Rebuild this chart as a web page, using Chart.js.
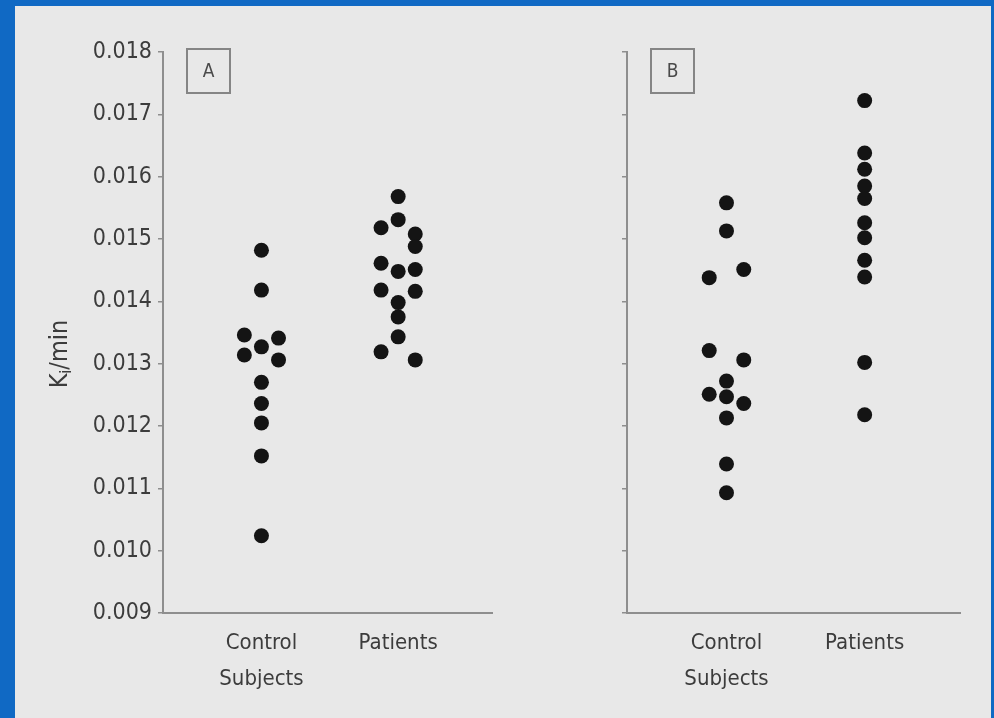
<!DOCTYPE html>
<html>
<head>
<meta charset="utf-8">
<title>Ki/min - control subjects vs patients</title>
<script src="https://cdn.jsdelivr.net/npm/chart.js@4.4.0/dist/chart.umd.min.js"></script>
<style>
    body { margin: 0; background: #1069c4; overflow: hidden; }
    #frame { position: absolute; left: 15px; top: 6px; width: 976px; height: 712px; background: #e8e8e8; }
    .wrap { position: absolute; top: 0; height: 718px; }
    #wrapA { left: 0; width: 500px; }
    #wrapB { left: 500px; width: 491px; }
</style>
</head>
<body>
<div id="frame"></div>
<div class="wrap" id="wrapA"><canvas id="chartA"></canvas></div>
<div class="wrap" id="wrapB"><canvas id="chartB"></canvas></div>

<script>
// =============================
// DATA (Ki/min per subject)
// =============================
const categories = [["Control", "Subjects"], "Patients"];
const yTicks = [0.009, 0.010, 0.011, 0.012, 0.013, 0.014, 0.015, 0.016, 0.017, 0.018];

// panel A
const controlA = [0.01482, 0.01418, 0.01346, 0.01341, 0.01327, 0.01314, 0.01306, 0.01270, 0.01236, 0.01205, 0.01152, 0.01024];
const controlAColumn = [0, 0, -1, 1, 0, -1, 1, 0, 0, 0, 0, 0];
const patientsA = [0.01568, 0.01531, 0.01518, 0.01508, 0.01488, 0.01461, 0.01448, 0.01451, 0.01418, 0.01416, 0.01398, 0.01375, 0.01343, 0.01319, 0.01306];
const patientsAColumn = [0, 0, -1, 1, 1, -1, 0, 1, -1, 1, 0, 0, 0, -1, 1];

// panel B
const controlB = [0.01558, 0.01513, 0.01438, 0.01451, 0.01321, 0.01306, 0.01272, 0.01251, 0.01247, 0.01236, 0.01213, 0.01139, 0.01093];
const controlBColumn = [0, 0, -1, 1, -1, 1, 0, -1, 0, 1, 0, 0, 0];
const patientsB = [0.01722, 0.01638, 0.01612, 0.01585, 0.01565, 0.01526, 0.01502, 0.01466, 0.01439, 0.01302, 0.01218];
const patientsBColumn = [0, 0, 0, 0, 0, 0, 0, 0, 0, 0, 0];

// =============================
// STYLE
// =============================
const FONT = "'Liberation Sans Narrow', 'DejaVu Sans Condensed', 'Liberation Sans', sans-serif";
const TEXT = "#3c3c3c";
const AXIS = "#8e8e8e";
const COL_STEP = 0.125;

function toPoints(values, columns, catIndex) {
    return values.map((v, i) => ({ x: catIndex + 1 + columns[i] * COL_STEP, y: v }));
}

// boxed panel letter (A / B)
const panelLabel = {
    id: "panelLabel",
    afterDraw(chart, args, opts) {
        const { ctx, chartArea } = chart;
        const x = chartArea.left + opts.dx, y = chartArea.top + opts.dy;
        ctx.save();
        ctx.strokeStyle = "#858585";
        ctx.lineWidth = 2;
        ctx.strokeRect(x, y, 43, 44);
        ctx.fillStyle = "#4a4a4a";
        ctx.font = "19px " + FONT;
        ctx.textAlign = "center";
        ctx.textBaseline = "middle";
        ctx.fillText(opts.text, x + 21.5, y + 23);
        ctx.restore();
    }
};

// rotated y title with subscript: K_i/min
const yTitle = {
    id: "yTitle",
    afterDraw(chart, args, opts) {
        if (!opts.show) return;
        const ctx = chart.ctx;
        ctx.save();
        ctx.translate(opts.x, opts.y);
        ctx.rotate(-Math.PI / 2);
        ctx.fillStyle = TEXT;
        ctx.textBaseline = "middle";
        const big = "25px " + FONT, small = "16px " + FONT;
        ctx.font = big;
        const wK = ctx.measureText("K").width;
        const wRest = ctx.measureText("/min").width;
        ctx.font = small;
        const wi = ctx.measureText("i").width;
        let x = -(wK + wi + wRest) / 2;
        ctx.font = big;
        ctx.fillText("K", x, 0);
        x += wK;
        ctx.font = small;
        ctx.fillText("i", x, 7);
        x += wi;
        ctx.font = big;
        ctx.fillText("/min", x, 0);
        ctx.restore();
    }
};

function makeChart(id, control, controlCol, patients, patientsCol, opt) {
    const ctx = document.getElementById(id);
    return new Chart(ctx, {
        type: "scatter",
        data: {
            datasets: [
                { label: "Control Subjects", data: toPoints(control, controlCol, 0) },
                { label: "Patients", data: toPoints(patients, patientsCol, 1) }
            ]
        },
        options: {
            responsive: true,
            maintainAspectRatio: false,
            animation: false,
            layout: { padding: { left: 0, right: opt.padRight, top: 52, bottom: 0 } },
            elements: {
                point: { radius: 7.5, backgroundColor: "#141414", borderWidth: 0, hoverRadius: 7.5 }
            },
            scales: {
                x: {
                    type: "linear",
                    min: 0.28,
                    max: 2.69,
                    afterBuildTicks: s => { s.ticks = categories.map((c, i) => ({ value: i + 1 })); },
                    afterFit: s => { s.height = 105; },
                    grid: { display: false, drawTicks: false },
                    border: { display: true, color: AXIS, width: 2 },
                    ticks: {
                        padding: 12,
                        color: TEXT,
                        font: { family: FONT, size: 22, lineHeight: 1.65 },
                        maxRotation: 0,
                        callback: v => categories[Math.round(v) - 1]
                    }
                },
                y: {
                    min: yTicks[0],
                    max: yTicks[yTicks.length - 1],
                    afterBuildTicks: s => { s.ticks = yTicks.map(v => ({ value: v })); },
                    afterFit: s => { s.width = opt.yWidth; },
                    grid: { drawOnChartArea: false, tickLength: 5, color: AXIS, lineWidth: 1.5 },
                    border: { display: true, color: AXIS, width: 2 },
                    ticks: {
                        display: opt.showTicks,
                        padding: 6,
                        color: TEXT,
                        font: { family: FONT, size: 23 },
                        callback: v => v.toFixed(3)
                    }
                }
            },
            plugins: {
                legend: { display: false },
                tooltip: { enabled: false },
                panelLabel: { text: opt.letter, dx: 24, dy: -3 },
                yTitle: { show: opt.showTicks, x: 60, y: 354 }
            }
        },
        plugins: [panelLabel, yTitle]
    });
}

document.addEventListener("DOMContentLoaded", function () {
    makeChart("chartA", controlA, controlAColumn, patientsA, patientsAColumn,
        { letter: "A", yWidth: 163, padRight: 7, showTicks: true });
    makeChart("chartB", controlB, controlBColumn, patientsB, patientsBColumn,
        { letter: "B", yWidth: 127, padRight: 31, showTicks: false });
});
</script>
</body>
</html>
